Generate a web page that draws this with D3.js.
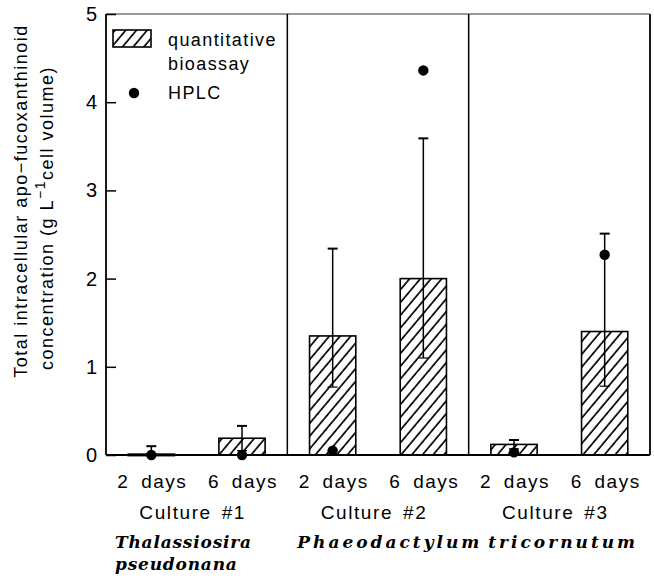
<!DOCTYPE html>
<html>
<head>
<meta charset="utf-8">
<script src="https://cdn.jsdelivr.net/npm/d3@7"></script>
<style>
  html, body { margin: 0; padding: 0; background: #fff; }
  svg { display: block; }
  .sans { font-family: "Liberation Sans", Arial, sans-serif; fill: #000; }
  .serif { font-family: "DejaVu Serif", serif; font-weight: bold; font-style: italic; fill: #000; }
</style>
</head>
<body>
<svg id="chart" width="654" height="580"></svg>
<script>
// ---------------- data ----------------
const cultures = ["Culture #1", "Culture #2", "Culture #3"];
const dayLabels = ["2 days", "6 days"];
const barIds = ["C1-2", "C1-6", "C2-2", "C2-6", "C3-2", "C3-6"];
const bioassay = [0.01, 0.19, 1.35, 2.00, 0.12, 1.40];
const errUpper = [0.10, 0.33, 2.34, 3.59, 0.17, 2.51];
const errLower = [0.00, 0.05, 0.77, 1.10, 0.07, 0.78];
const hplc     = [0.00, 0.00, 0.05, 4.36, 0.03, 2.27];
const yTicks = [0, 1, 2, 3, 4, 5];
const legendLabels = ["quantitative", "bioassay", "HPLC"];
const yTitle1 = "Total intracellular apo\u2212fucoxanthinoid";

// ---------------- layout ----------------
const svg = d3.select("#chart");
const pLeft = 106, pRight = 650, pTop = 14, pBottom = 455;

const x = d3.scaleBand().domain(barIds).range([pLeft, pRight])
  .paddingInner(0.49).paddingOuter(0.245);
const y = d3.scaleLinear().domain([0, 5]).range([pBottom, pTop]);

// hatch pattern
const defs = svg.append("defs");
defs.append("pattern")
  .attr("id", "hatch")
  .attr("patternUnits", "userSpaceOnUse")
  .attr("width", 8.2).attr("height", 8.2)
  .attr("patternTransform", "rotate(40)")
  .append("line")
  .attr("x1", 1).attr("y1", -2).attr("x2", 1).attr("y2", 12)
  .attr("stroke", "#000").attr("stroke-width", 1.7);

// bars
svg.append("g").selectAll("rect").data(barIds).join("rect")
  .attr("x", d => x(d))
  .attr("width", x.bandwidth())
  .attr("y", (d, i) => y(bioassay[i]))
  .attr("height", (d, i) => Math.max(1.5, y(0) - y(bioassay[i])))
  .attr("fill", "url(#hatch)")
  .attr("stroke", "#000").attr("stroke-width", 1.6);

// error bars
const eb = svg.append("g").attr("stroke", "#000").attr("stroke-width", 1.5);
barIds.forEach((d, i) => {
  const cx = x(d) + x.bandwidth() / 2;
  const lo = Math.max(0, errLower[i]);
  eb.append("line").attr("x1", cx).attr("x2", cx)
    .attr("y1", y(lo)).attr("y2", y(errUpper[i]));
  eb.append("line").attr("x1", cx - 5).attr("x2", cx + 5)
    .attr("y1", y(errUpper[i])).attr("y2", y(errUpper[i])).attr("stroke-width", 2);
  if (errLower[i] > 0) {
    eb.append("line").attr("x1", cx - 5).attr("x2", cx + 5)
      .attr("y1", y(errLower[i])).attr("y2", y(errLower[i])).attr("stroke-width", 1.2);
  }
});

// HPLC points
svg.append("g").selectAll("circle").data(barIds).join("circle")
  .attr("cx", d => x(d) + x.bandwidth() / 2)
  .attr("cy", (d, i) => y(hplc[i]))
  .attr("r", 5.2)
  .attr("fill", "#000");

// frame and panel dividers
const frame = svg.append("g").attr("fill", "none").attr("stroke", "#000");
frame.append("line").attr("x1", pLeft).attr("x2", pLeft).attr("y1", pTop).attr("y2", pBottom).attr("stroke-width", 1.8);
frame.append("line").attr("x1", pRight).attr("x2", pRight).attr("y1", pTop).attr("y2", pBottom).attr("stroke-width", 1.8);
frame.append("line").attr("x1", pLeft).attr("x2", pRight).attr("y1", pTop).attr("y2", pTop).attr("stroke-width", 1.2).attr("stroke", "#333");
frame.append("line").attr("x1", pLeft).attr("x2", pRight).attr("y1", pBottom).attr("y2", pBottom).attr("stroke-width", 1.8);
[2, 4].forEach(k => {
  const xd = pLeft + x.step() * k;
  frame.append("line").attr("x1", xd).attr("x2", xd).attr("y1", pTop).attr("y2", pBottom).attr("stroke-width", 1.5);
});

// y axis (ticks inside)
const yAxis = d3.axisLeft(y).tickValues(yTicks).tickFormat(d3.format("d"))
  .tickSizeInner(-10).tickSizeOuter(0).tickPadding(9);
const gy = svg.append("g").attr("transform", `translate(${pLeft},0)`).call(yAxis);
gy.select(".domain").remove();
gy.selectAll(".tick line").attr("stroke", "#000").attr("stroke-width", 1.5);
gy.selectAll(".tick text").attr("class", "sans").style("font-size", "20px");

// x labels: days
svg.append("g").selectAll("text").data(barIds).join("text")
  .attr("class", "sans")
  .attr("x", d => x(d) + x.bandwidth() / 2 + 1)
  .attr("y", 488)
  .attr("text-anchor", "middle")
  .style("font-size", "19px")
  .style("letter-spacing", "1.5px")
  .style("word-spacing", "5px")
  .text((d, i) => dayLabels[i % 2]);

// culture labels
svg.append("g").selectAll("text").data(cultures).join("text")
  .attr("class", "sans")
  .attr("x", (d, i) => pLeft + x.step() * (2 * i + 1) - 4)
  .attr("y", 519)
  .attr("text-anchor", "middle")
  .style("font-size", "19px")
  .style("letter-spacing", "1.6px")
  .style("word-spacing", "3px")
  .text(d => d);

// species labels
const sp = svg.append("g");
sp.append("text").attr("class", "serif").attr("x", 115).attr("y", 548)
  .style("font-size", "17px").style("letter-spacing", "0.8px").text("Thalassiosira");
sp.append("text").attr("class", "serif").attr("x", 115).attr("y", 570)
  .style("font-size", "17px").style("letter-spacing", "0.8px").text("pseudonana");
sp.append("text").attr("class", "serif").attr("x", pLeft + x.step() * 4 - 1).attr("y", 548)
  .attr("text-anchor", "middle")
  .style("font-size", "17px").style("letter-spacing", "3px").style("word-spacing", "-3px")
  .text("Phaeodactylum tricornutum");

// legend
const lg = svg.append("g");
lg.append("rect").attr("x", 113).attr("y", 30).attr("width", 38).attr("height", 17)
  .attr("fill", "url(#hatch)").attr("stroke", "#000").attr("stroke-width", 1.6);
legendLabels.forEach((t, i) => {
  lg.append("text").attr("class", "sans").attr("x", 168).attr("y", [46, 70, 99][i])
    .style("font-size", "18px").style("letter-spacing", "1.4px").text(t);
});
lg.append("circle").attr("cx", 134).attr("cy", 93).attr("r", 5.2).attr("fill", "#000");

// y title (two lines)
svg.append("text").attr("class", "sans")
  .attr("transform", "translate(27,201) rotate(-90)")
  .attr("text-anchor", "middle")
  .style("font-size", "18px").style("letter-spacing", "1.5px")
  .text(yTitle1);
const t2 = svg.append("text").attr("class", "sans")
  .attr("transform", "translate(53,218) rotate(-90)")
  .attr("text-anchor", "middle")
  .style("font-size", "18px").style("letter-spacing", "1.5px");
t2.append("tspan").text("concentration (g L");
t2.append("tspan").attr("dy", -8).style("font-size", "14px").text("\u22121");
t2.append("tspan").attr("dy", 8).text("cell volume)");
</script>
</body>
</html>
